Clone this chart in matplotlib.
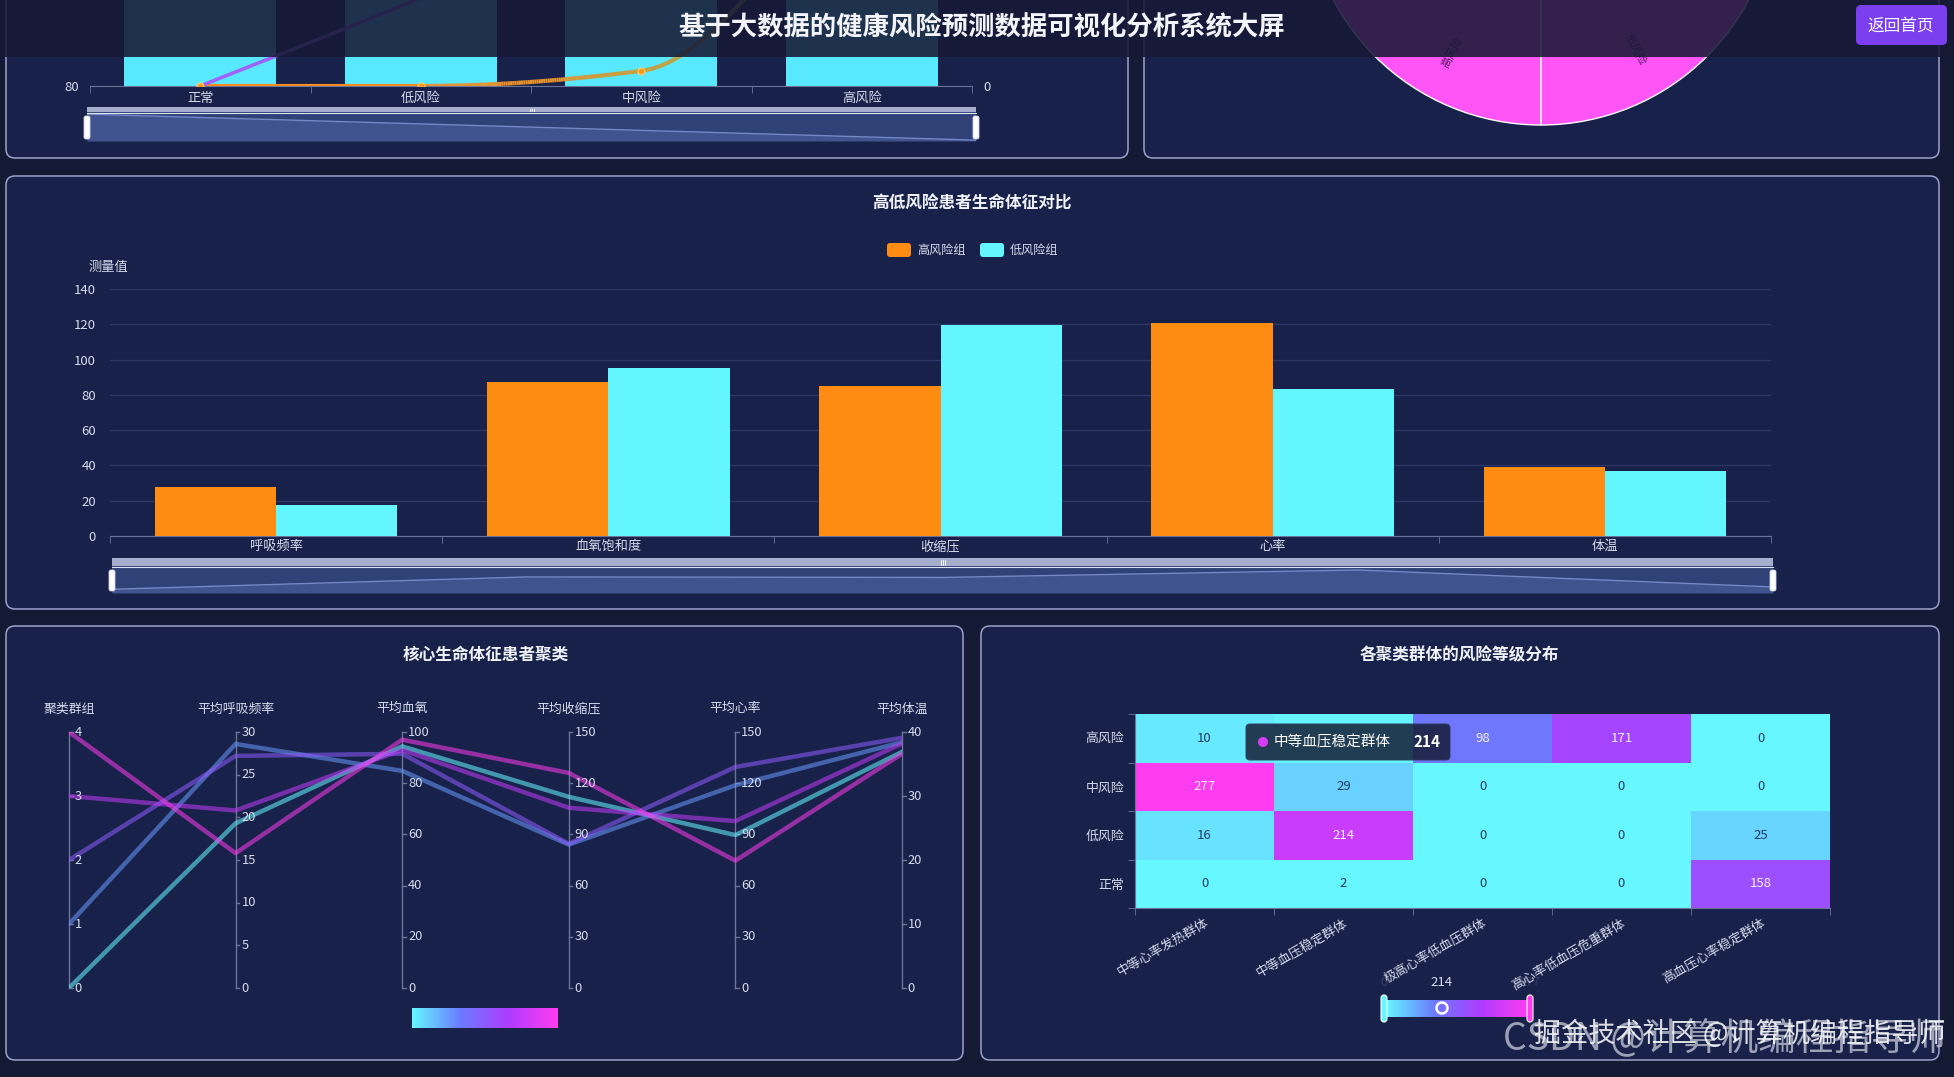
import numpy as np
import matplotlib
matplotlib.use('Agg')
import matplotlib.pyplot as plt
from matplotlib.patches import FancyBboxPatch, Rectangle, Wedge, Circle
from matplotlib.colors import LinearSegmentedColormap
from matplotlib.collections import LineCollection

plt.rcParams['font.family'] = ['Noto Sans CJK SC', 'DejaVu Sans']
plt.rcParams['axes.unicode_minus'] = False

# ------------------------------------------------------------------ data
main_title = '基于大数据的健康风险预测数据可视化分析系统大屏'
back_btn = '返回首页'

risk_levels = ['正常', '低风险', '中风险', '高风险']
risk_bar_values = [98, 96, 94, 92]          # left axis (min 80), tops hidden under header
risk_line_orange = [0, 0, 18, 260]          # right axis (min 0)
risk_line_purple = [0, 105, 220, 300]
pie_labels = ['高风险', '低风险']

vital_names = ['呼吸频率', '血氧饱和度', '收缩压', '心率', '体温']
high_risk_vals = [27.9, 87.5, 84.9, 120.8, 39.1]
low_risk_vals = [17.5, 95.5, 119.6, 83.4, 37.0]
vital_title = '高低风险患者生命体征对比'
legend_names = ['高风险组', '低风险组']
vital_yticks = [0, 20, 40, 60, 80, 100, 120, 140]

par_title = '核心生命体征患者聚类'
par_axes = ['聚类群组', '平均呼吸频率', '平均血氧', '平均收缩压', '平均心率', '平均体温']
par_max = [4, 30, 100, 150, 150, 40]
par_step = [1, 5, 20, 30, 30, 10]
cluster_ids = [0, 1, 2, 3, 4]
cluster_resp = [19.3, 28.6, 27.2, 20.8, 15.8]
cluster_spo2 = [94.4, 84.8, 91.5, 93.0, 97.0]
cluster_sbp = [112.0, 84.0, 84.5, 105.6, 126.0]
cluster_hr = [89.6, 118.8, 129.5, 97.8, 74.6]
cluster_temp = [36.9, 38.4, 39.1, 38.2, 36.6]

heat_title = '各聚类群体的风险等级分布'
heat_clusters = ['中等心率发热群体', '中等血压稳定群体', '极高心率低血压群体',
                 '高心率低血压危重群体', '高血压心率稳定群体']
heat_levels = ['正常', '低风险', '中风险', '高风险']
heat_normal = [0, 2, 0, 0, 158]
heat_low = [16, 214, 0, 0, 25]
heat_mid = [277, 29, 0, 0, 0]
heat_high = [10, 3, 98, 171, 0]
tooltip_name = '中等血压稳定群体'
tooltip_value = 214
tooltip_hidden_cell = (3, 1)   # (row, col) covered by the tooltip

# ------------------------------------------------------------------ style
W, H, DPI = 1954, 1077, 100
BG = '#141a33'
PANEL = '#18214a'
BORDER = '#9aa2cc'
TXT = '#d6dbec'
AXC = '#6b7396'
ORANGE = '#ff8c12'
CYAN = '#64f6ff'
grad_colors = ['#66f7ff', '#6b7bff', '#b03cff', '#ff3cf0']
vm_cmap = LinearSegmentedColormap.from_list('vm', grad_colors)

fig = plt.figure(figsize=(W / DPI, H / DPI), dpi=DPI, facecolor=BG)


def px_axes(x0, y0, x1, y1, z=5):
    ax = fig.add_axes([x0 / W, 1 - y1 / H, (x1 - x0) / W, (y1 - y0) / H], zorder=z)
    ax.set_facecolor('none')
    return ax


def pix_canvas(z):
    ax = fig.add_axes([0, 0, 1, 1], zorder=z)
    ax.set_xlim(0, W)
    ax.set_ylim(H, 0)
    ax.axis('off')
    ax.set_facecolor('none')
    return ax


bg = pix_canvas(0)
ov = pix_canvas(20)


def panel(x0, y0, x1, y1):
    bg.add_patch(FancyBboxPatch((x0, y0), x1 - x0, y1 - y0,
                                boxstyle='round,pad=0,rounding_size=9',
                                fc=PANEL, ec=BORDER, lw=1.1))


panel(6, -300, 1128, 158)
panel(1144, -300, 1939, 158)
panel(6, 176, 1939, 609)
panel(6, 626, 963, 1060)
panel(981, 626, 1939, 1060)


def pchip(x, y, xs):
    x = np.asarray(x, float)
    y = np.asarray(y, float)
    h = np.diff(x)
    d = np.diff(y) / h
    n = len(x)
    m = np.zeros(n)
    m[0], m[-1] = d[0], d[-1]
    for k in range(1, n - 1):
        if d[k - 1] * d[k] <= 0:
            m[k] = 0
        else:
            w1 = 2 * h[k] + h[k - 1]
            w2 = h[k] + 2 * h[k - 1]
            m[k] = (w1 + w2) / (w1 / d[k - 1] + w2 / d[k])
    out = []
    for v in xs:
        k = min(max(np.searchsorted(x, v) - 1, 0), n - 2)
        t = (v - x[k]) / h[k]
        h00 = 2 * t**3 - 3 * t**2 + 1
        h10 = t**3 - 2 * t**2 + t
        h01 = -2 * t**3 + 3 * t**2
        h11 = t**3 - t**2
        out.append(h00 * y[k] + h10 * h[k] * m[k] + h01 * y[k + 1] + h11 * h[k] * m[k + 1])
    return np.array(out)


def slider(x0, x1, ytop, ybar, ybot, xdata, ydata, ylo, yhi):
    bg.add_patch(Rectangle((x0, ytop), x1 - x0, ybar - ytop, fc='#a6aecd', ec='none', zorder=3))
    sa = px_axes(x0, ybar, x1, ybot)
    sa.set_xlim(0, len(xdata) - 1)
    sa.set_ylim(ylo, yhi)
    sa.set_facecolor('#2f4176')
    sa.fill_between(xdata, ydata, ylo, color='#3f548f', lw=0)
    sa.plot(xdata, ydata, color='#7488c8', lw=1)
    sa.set_xticks([])
    sa.set_yticks([])
    for s in sa.spines.values():
        s.set_visible(False)
    ov.plot([x0, x1], [ybar + 0.5, ybar + 0.5], color='#dfe4f5', lw=0.8)
    for hx in (x0, x1):
        ov.add_patch(FancyBboxPatch((hx - 3, ybar + 4), 6, ybot - ybar - 6,
                                    boxstyle='round,pad=0,rounding_size=2',
                                    fc='#ffffff', ec='#c9cfe6', lw=0.6))
    mx = (x0 + x1) / 2
    for dx in (-2, 0, 2):
        ov.plot([mx + dx, mx + dx], [ytop + 1.5, ybar - 1.5], color='#ffffff', lw=0.6)


# ------------------------------------------------------------------ top-left chart
axL = px_axes(90, -166, 972, 86)
xi = np.arange(len(risk_levels))
axL.bar(xi, risk_bar_values, width=0.69, color='#58e8ff', zorder=2)
axL.set_ylim(80, 100)
axL.set_xlim(-0.5, len(risk_levels) - 0.5)
for s in ['top', 'right', 'left']:
    axL.spines[s].set_visible(False)
axL.spines['bottom'].set_color(AXC)
axL.set_yticks([80])
axL.set_yticklabels(['80'])
axL.tick_params(axis='y', length=0, colors=TXT, labelsize=9.5, pad=8)
axL.set_xticks(xi)
axL.set_xticklabels(risk_levels)
axL.tick_params(axis='x', length=0, colors=TXT, labelsize=9.5, pad=4)
axL.set_xticks(np.arange(-0.5, len(risk_levels), 1), minor=True)
axL.tick_params(axis='x', which='minor', length=5, color=AXC)
axR = axL.twinx()
axR.set_ylim(0, 300)
for s in axR.spines.values():
    s.set_visible(False)
axR.set_yticks([0])
axR.tick_params(axis='y', length=0, colors=TXT, labelsize=9.5, pad=8)
xs = np.linspace(0, 3, 300)
yo = pchip(xi, risk_line_orange, xs)
pts = np.column_stack([xs, yo]).reshape(-1, 1, 2)
segs = np.concatenate([pts[:-1], pts[1:]], axis=1)
lc = LineCollection(segs, cmap=LinearSegmentedColormap.from_list('o', ['#ff8a1c', '#e8902a', '#8db656']),
                    linewidths=3, zorder=3)
lc.set_array(xs[:-1])
axR.add_collection(lc)
yp = pchip(xi, risk_line_purple, xs)
axR.plot(xs, yp, color='#a060ff', lw=2.5, zorder=4)
axR.plot(xi, risk_line_orange, 'o', ms=5, mfc='#ff9a20', mec='#ffd070', mew=0.8, zorder=5)

slider(87, 976, 107, 112, 141, xi, risk_bar_values, 91.8, 98.5)

# ------------------------------------------------------------------ top-right pie (clipped by header)
pie_ax = pix_canvas(4)
cx, cy, r = 1541, -110, 235
pie_ax.add_patch(Wedge((cx, cy), r, 90, 270, fc='#ff55f7', ec='#ffffff', lw=1.0))
pie_ax.add_patch(Wedge((cx, cy), r, -90, 90, fc='#ff55f7', ec='#ffffff', lw=1.0))
pie_ax.text(1452, 52, pie_labels[0], rotation=62, fontsize=8, color='#5a1a66', ha='center', va='center')
pie_ax.text(1636, 50, pie_labels[1], rotation=-62, fontsize=8, color='#5a1a66', ha='center', va='center')

# ------------------------------------------------------------------ middle bar chart
axM = px_axes(110, 289, 1771, 536)
vi = np.arange(len(vital_names))
bw = 0.365
axM.bar(vi - bw / 2, high_risk_vals, width=bw, color=ORANGE, zorder=3)
axM.bar(vi + bw / 2, low_risk_vals, width=bw, color=CYAN, zorder=3)
axM.set_xlim(-0.5, len(vital_names) - 0.5)
axM.set_ylim(0, 140)
axM.set_yticks(vital_yticks)
axM.grid(axis='y', color='#2b3764', lw=1, zorder=0)
axM.set_axisbelow(True)
for s in ['top', 'right', 'left']:
    axM.spines[s].set_visible(False)
axM.spines['bottom'].set_color(AXC)
axM.tick_params(axis='y', length=0, colors=TXT, labelsize=9.5, pad=10)
axM.set_xticks(vi)
axM.set_xticklabels(vital_names)
axM.tick_params(axis='x', length=0, colors=TXT, labelsize=9.5, pad=3)
axM.set_xticks(np.arange(-0.5, len(vital_names), 1), minor=True)
axM.tick_params(axis='x', which='minor', length=5, color=AXC)
bg.text(108, 267, '测量值', color=TXT, fontsize=9.5, ha='center', va='center')
bg.text(972, 204, vital_title, color='#f0f2fa', fontsize=12, fontweight='bold', ha='center', va='center')
bg.add_patch(FancyBboxPatch((887, 243), 24, 14, boxstyle='round,pad=0,rounding_size=3', fc=ORANGE, ec='none'))
bg.text(917, 250, legend_names[0], color=TXT, fontsize=8.7, ha='left', va='center')
bg.add_patch(FancyBboxPatch((980, 243), 24, 14, boxstyle='round,pad=0,rounding_size=3', fc=CYAN, ec='none'))
bg.text(1010, 250, legend_names[1], color=TXT, fontsize=8.7, ha='left', va='center')

slider(112, 1773, 558, 566, 593, vi, high_risk_vals, 10, 140)

# ------------------------------------------------------------------ parallel coordinates
axP = px_axes(69, 732, 902, 988)
axP.set_xlim(0, len(par_axes) - 1)
axP.set_ylim(0, 1)
axP.axis('off')
cols = [cluster_ids, cluster_resp, cluster_spo2, cluster_sbp, cluster_hr, cluster_temp]
for i in range(len(cluster_ids)):
    vals = [cols[j][i] / par_max[j] for j in range(len(par_axes))]
    c = vm_cmap(cluster_ids[i] / max(cluster_ids))
    axP.plot(range(len(par_axes)), vals, color=c, lw=3.2, alpha=0.55, solid_capstyle='round', zorder=3)
for j, name in enumerate(par_axes):
    axP.plot([j, j], [0, 1], color=AXC, lw=1, zorder=2, clip_on=False)
    ticks = np.arange(0, par_max[j] + 1e-9, par_step[j])
    for t in ticks:
        yv = t / par_max[j]
        axP.plot([j, j + 0.022], [yv, yv], color=AXC, lw=1, clip_on=False)
        axP.text(j + 0.035, yv, f'{t:g}', color=TXT, fontsize=9.3, ha='left', va='center')
    axP.text(j, 1.09, name, color=TXT, fontsize=9.3, ha='center', va='center')
bg.text(486, 655, par_title, color='#f0f2fa', fontsize=12, fontweight='bold', ha='center', va='center')
gb = px_axes(412, 1008, 558, 1028)
gb.imshow(np.linspace(0, 1, 256)[None, :], aspect='auto', cmap=vm_cmap, extent=(0, 1, 0, 1))
gb.axis('off')

# ------------------------------------------------------------------ heatmap
axH = px_axes(1135, 714, 1830, 908)
heat = np.array([heat_normal, heat_low, heat_mid, heat_high], float)
vmax = heat.max()
axH.pcolormesh(np.arange(len(heat_clusters) + 1) - 0.5, np.arange(len(heat_levels) + 1) - 0.5,
               heat, cmap=vm_cmap, vmin=0, vmax=vmax, shading='flat')
axH.set_xlim(-0.5, len(heat_clusters) - 0.5)
axH.set_ylim(-0.5, len(heat_levels) - 0.5)
for r_ in range(heat.shape[0]):
    for c_ in range(heat.shape[1]):
        if (r_, c_) == tooltip_hidden_cell:
            continue
        v = heat[r_, c_]
        axH.text(c_, r_, f'{int(v)}', ha='center', va='center', fontsize=9.5,
                 color='#f4f0ff' if v > 80 else '#233a5e')
for s in ['top', 'right']:
    axH.spines[s].set_visible(False)
axH.spines['left'].set_color(AXC)
axH.spines['bottom'].set_color(AXC)
axH.set_yticks(range(len(heat_levels)))
axH.set_yticklabels(heat_levels)
axH.set_xticks(range(len(heat_clusters)))
axH.set_xticklabels(heat_clusters, rotation=30, ha='right', rotation_mode='anchor')
axH.tick_params(axis='both', which='major', length=0, colors=TXT, labelsize=9.3)
axH.tick_params(axis='y', pad=8)
axH.tick_params(axis='x', pad=6)
axH.set_xticks(np.arange(-0.5, len(heat_clusters), 1), minor=True)
axH.set_yticks(np.arange(-0.5, len(heat_levels), 1), minor=True)
axH.tick_params(which='minor', length=5, color=AXC)
bg.text(1459, 655, heat_title, color='#f0f2fa', fontsize=12, fontweight='bold', ha='center', va='center')

# heatmap visual map
vmb = px_axes(1386, 1000, 1530, 1017, z=6)
vmb.imshow(np.linspace(0, 1, 256)[None, :], aspect='auto', cmap=vm_cmap, extent=(0, 1, 0, 1))
vmb.axis('off')
ov.add_patch(FancyBboxPatch((1381, 995), 6, 27, boxstyle='round,pad=0,rounding_size=3',
                            fc='#66f7ff', ec='#ffffff', lw=0.8))
ov.add_patch(FancyBboxPatch((1527, 995), 6, 27, boxstyle='round,pad=0,rounding_size=3',
                            fc='#ff3cf0', ec='#ffffff', lw=0.8))
ov.add_patch(Circle((1442, 1008), 5.5, fc='none', ec='#ffffff', lw=1.8))
ov.text(1442, 983, f'{tooltip_value}', color=TXT, fontsize=9.5, ha='center', va='center')
ov.text(1384, 982, '0', color=TXT, fontsize=9, ha='center', va='center', alpha=0.15)
ov.text(1530, 982, f'{int(vmax)}', color=TXT, fontsize=9, ha='center', va='center', alpha=0.15)

# tooltip
ov.add_patch(FancyBboxPatch((1246, 724), 204, 36, boxstyle='round,pad=0,rounding_size=4',
                            fc='#141a32', ec='#2d3a5e', lw=0.8, alpha=0.84))
ov.add_patch(Circle((1263, 742), 5, fc='#d63cf5', ec='none'))
ov.text(1274, 742, tooltip_name, color='#ffffff', fontsize=10.5, ha='left', va='center')
ov.text(1441, 742, f'{tooltip_value}', color='#ffffff', fontsize=11, fontweight='bold', ha='right', va='center')

# ------------------------------------------------------------------ header
ov.add_patch(Rectangle((0, 0), W, 57, fc='#161935', ec='none', alpha=0.88))
ov.text(982, 28, main_title, color='#f4f5fb', fontsize=19, fontweight='bold', ha='center', va='center')
ov.add_patch(FancyBboxPatch((1856, 5), 91, 40, boxstyle='round,pad=0,rounding_size=5',
                            fc='#7c3ff0', ec='none'))
ov.text(1901, 26, back_btn, color='#ffffff', fontsize=12, ha='center', va='center')

# watermark
ov.text(1946, 1040, 'CSDN @计算机编程指导师', color='#c9ccd8', fontsize=27, ha='right', va='center',
        alpha=0.75, fontweight='light')
ov.text(1946, 1034, '掘金技术社区 @计算机编程指导师', color='#ffffff', fontsize=19.5, ha='right', va='center',
        alpha=0.85)

fig.savefig('out.png', dpi=DPI, facecolor=BG)
